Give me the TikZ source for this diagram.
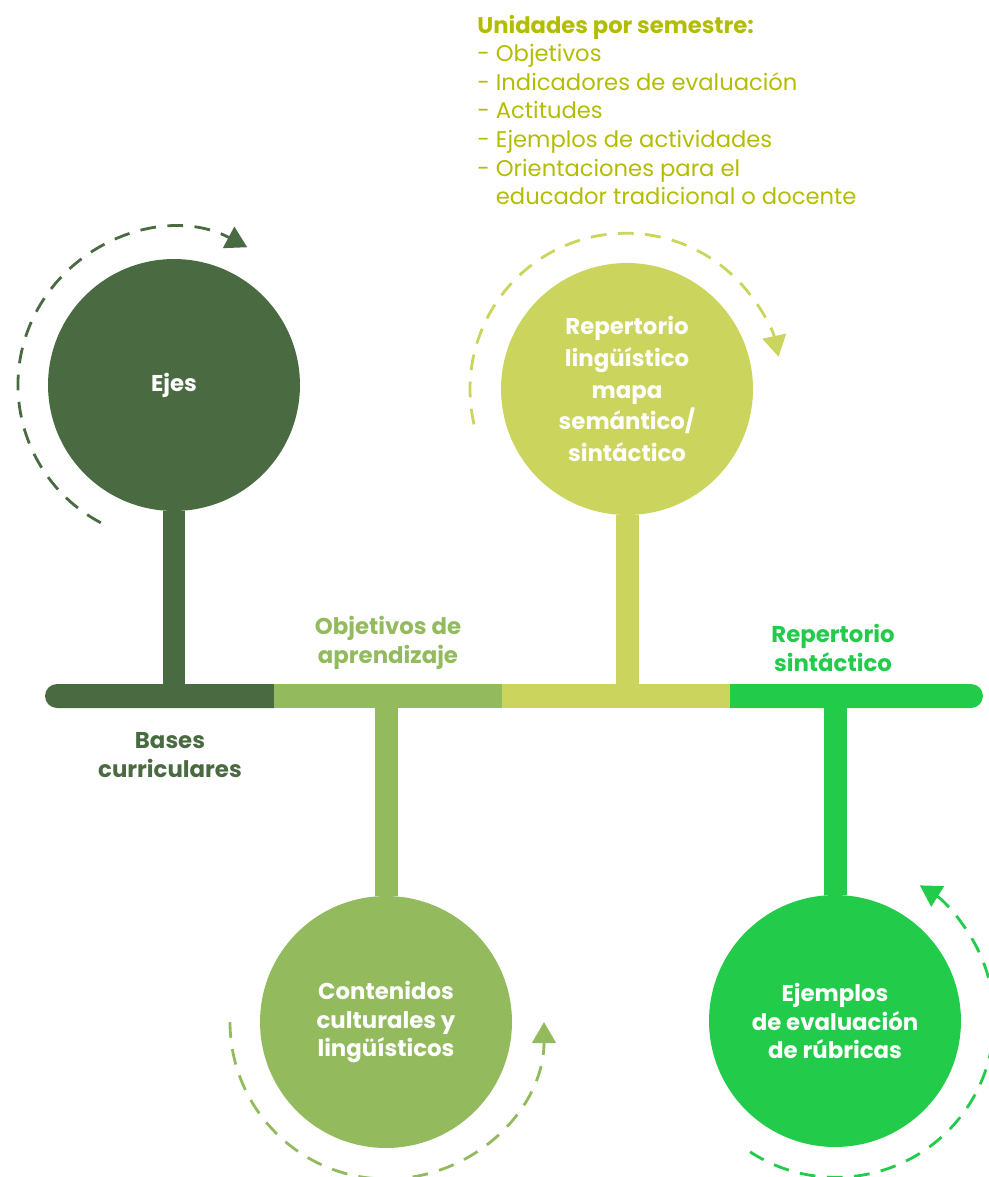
\documentclass[tikz,border=0pt]{standalone}
\usepackage{fontspec}
\setmainfont{Poppins}
\usetikzlibrary{arrows.meta,shapes.misc}
\definecolor{ejesgreen}{HTML}{4A6B41}
\definecolor{objgreen}{HTML}{93BB5E}
\definecolor{repyellow}{HTML}{CBD45C}
\definecolor{sintgreen}{HTML}{22CC4A}
\definecolor{unitext}{HTML}{B3BD00}

\begin{document}
\begin{tikzpicture}[x=0.02cm,y=0.02cm,>={Triangle[length=12pt,width=13.5pt]}]

  \tikzstyle{bubble}=[circle,minimum size=5.04cm,inner sep=0pt,text=white,
                      align=center,font=\bfseries\fontsize{13}{16.2}\selectfont]
  \tikzstyle{segment}=[rectangle,inner sep=0pt,minimum height=0.48cm]
  \tikzstyle{stem}=[line width=0.46cm]
  \tikzstyle{cycle}=[->,line width=1.6pt,dash pattern=on 9pt off 6.5pt]
  \tikzstyle{barlabel}=[align=center,font=\bfseries\fontsize{13}{16.5}\selectfont]

  \useasboundingbox (0,0) rectangle (988,-1177);

  % Time bar
  \node [segment,rounded rectangle,rounded rectangle right arc=none,
         fill=ejesgreen,minimum width=4.6cm]  (s1) at (160,-696) {};
  \node [segment,fill=objgreen,minimum width=4.58cm]   (s2) at (388,-696) {};
  \node [segment,fill=repyellow,minimum width=4.58cm]  (s3) at (616,-696) {};
  \node [segment,rounded rectangle,rounded rectangle left arc=none,
         fill=sintgreen,minimum width=5.06cm] (s4) at (856.5,-696) {};

  % Circles
  \node [bubble,fill=ejesgreen]  (c1) at (174,-385)  {Ejes};
  \node [bubble,fill=objgreen]   (c2) at (386,-1022) {Contenidos\\culturales y\\lingüísticos};
  \node [bubble,fill=repyellow,font=\bfseries\fontsize{13}{18}\selectfont]
                                 (c3) at (627,-389)  {Repertorio\\lingüístico\\mapa\\semántico/\\sintáctico};
  \node [bubble,fill=sintgreen]  (c4) at (835,-1021) {Ejemplos\\de evaluación\\de rúbricas};

  % Stems
  \draw [stem,ejesgreen]  (c1.south) -- (c1.south |- s1.center);
  \draw [stem,objgreen]   (c2.north) -- (c2.north |- s2.center);
  \draw [stem,repyellow]  (c3.south) -- (c3.south |- s3.center);
  \draw [stem,sintgreen]  (c4.north) -- (c4.north |- s4.center);

  % Dashed cycles
  \draw [cycle,ejesgreen] ([shift={(242:156)}]c1.center) arc [start angle=242,end angle=62,radius=156];
  \draw [cycle,repyellow] ([shift={(193:157)}]c3.center) arc [start angle=193,end angle=12,radius=156];
  \draw [cycle,objgreen]  ([shift={(180:156)}]c2.center) arc [start angle=180,end angle=360,radius=157];
  \draw [cycle,sintgreen] ([shift={(237:156)}]c4.center) arc [start angle=237,end angle=418,radius=158];

  % Labels
  \node [barlabel,text=ejesgreen]  (l1) at (170,-755) {Bases\\curriculares};
  \node [barlabel,text=objgreen]   (l2) at (388,-643) {Objetivos de\\aprendizaje};
  \node [barlabel,text=sintgreen]  (l4) at (833,-648) {Repertorio\\sintáctico};

  \node [anchor=north west,align=left,inner sep=0pt,text=unitext,
         font=\fontsize{12.9}{16.3}\selectfont] (units) at (477,-14.5)
    {\textbf{Unidades por semestre:}\\
     - Objetivos\\
     - Indicadores de evaluación\\
     - Actitudes\\
     - Ejemplos de actividades\\
     - Orientaciones para el\\
     \hphantom{- }educador tradicional o docente};
\end{tikzpicture}
\end{document}
